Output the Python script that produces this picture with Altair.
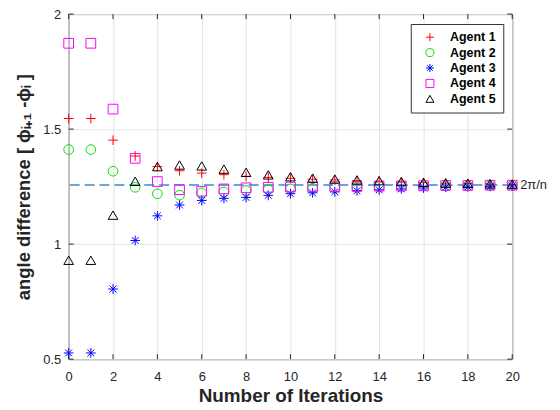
import altair as alt
import pandas as pd

iterations = list(range(21))
agent1 = [1.546, 1.546, 1.452, 1.383, 1.337, 1.319, 1.309, 1.302, 1.295, 1.290, 1.286,
          1.282, 1.279, 1.276, 1.273, 1.270, 1.267, 1.265, 1.263, 1.261, 1.260]
agent2 = [1.411, 1.411, 1.317, 1.247, 1.219, 1.213, 1.223, 1.227, 1.233, 1.237, 1.240,
          1.243, 1.246, 1.248, 1.250, 1.251, 1.252, 1.253, 1.254, 1.255, 1.256]
agent3 = [0.527, 0.527, 0.805, 1.016, 1.123, 1.170, 1.190, 1.199, 1.203, 1.212, 1.219,
          1.223, 1.227, 1.232, 1.236, 1.240, 1.244, 1.247, 1.249, 1.251, 1.253]
agent4 = [1.873, 1.873, 1.587, 1.373, 1.272, 1.237, 1.230, 1.240, 1.245, 1.247, 1.248,
          1.249, 1.250, 1.251, 1.252, 1.253, 1.254, 1.255, 1.255, 1.256, 1.256]
agent5 = [0.930, 0.930, 1.126, 1.273, 1.337, 1.344, 1.340, 1.326, 1.312, 1.301, 1.293,
          1.287, 1.283, 1.279, 1.276, 1.272, 1.269, 1.266, 1.264, 1.262, 1.261]
agent_names = ["Agent 1", "Agent 2", "Agent 3", "Agent 4", "Agent 5"]
agent_colors = ["#ff0000", "#00e000", "#0000ff", "#ff00ff", "#000000"]
x_ticks = list(range(0, 21, 2))
y_ticks = [0.5, 1, 1.5, 2]
ref_value = 1.2566
ref_label = "2\u03c0/n"

plus_path = "M-1,0L1,0M0,-1L0,1"
star_path = "M-1,0L1,0M0,-1L0,1M-0.7,-0.7L0.7,0.7M-0.7,0.7L0.7,-0.7"
agent_shapes = [plus_path, "circle", star_path, "square", "triangle-up"]

rows = []
for name, vals in zip(agent_names, [agent1, agent2, agent3, agent4, agent5]):
    for i, v in zip(iterations, vals):
        rows.append({"iter": i, "value": v, "agent": name})
df = pd.DataFrame(rows)

W, H = 446, 347
TL = 5
font = "Liberation Sans"
axis_col = "#262626"

xscale = alt.Scale(domain=[0, 20], nice=False)
yscale = alt.Scale(domain=[0.5, 2], nice=False)

points = alt.Chart(df).mark_point(filled=False, size=95, strokeWidth=1, opacity=1).encode(
    x=alt.X("iter:Q", scale=xscale,
            axis=alt.Axis(title="Number of Iterations", values=x_ticks,
                          grid=True, gridColor="#e3e3e3", domain=False, ticks=False,
                          labelFlush=False,
                          labelFont=font, labelFontSize=13, labelColor=axis_col,
                          labelPadding=11,
                          titleFont=font, titleFontSize=19, titleFontWeight="bold",
                          titleColor=axis_col, titlePadding=4)),
    y=alt.Y("value:Q", scale=yscale,
            axis=alt.Axis(title="angle difference [ \u03d5\u1d62\u208a\u2081 -\u03d5\u1d62 ]",
                          values=y_ticks, format="~g",
                          grid=True, gridColor="#e3e3e3", domain=False, ticks=False,
                          labelFlush=False,
                          labelFont=font, labelFontSize=13, labelColor=axis_col,
                          labelPadding=8,
                          titleFont=font, titleFontSize=18.5, titleFontWeight="bold",
                          titleColor=axis_col, titlePadding=9)),
    color=alt.Color("agent:N", scale=alt.Scale(domain=agent_names, range=agent_colors),
                    legend=alt.Legend(title=None, orient="none", legendX=344, legendY=10,
                                      labelFont=font, labelFontSize=12.5, labelFontWeight="bold",
                                      labelColor="#000000",
                                      fillColor="white", strokeColor="#333333",
                                      padding=7, rowPadding=2.5, symbolSize=65,
                                      symbolStrokeWidth=1, symbolOffset=6, labelOffset=14)),
    shape=alt.Shape("agent:N", scale=alt.Scale(domain=agent_names, range=agent_shapes)),
)

ref_df = pd.DataFrame({"y": [ref_value], "label": [ref_label], "x": [20]})
ref_line = alt.Chart(ref_df).mark_rule(color="#62aade", strokeWidth=2, strokeDash=[10, 5]).encode(
    y=alt.Y("y:Q", scale=yscale)
)
ref_text = alt.Chart(ref_df).mark_text(align="left", baseline="middle", dx=8, font=font,
                                        fontSize=13, color=axis_col).encode(
    x=alt.X("x:Q", scale=xscale), y=alt.Y("y:Q", scale=yscale), text="label:N"
)

xt = pd.DataFrame({"t": x_ticks})
yt = pd.DataFrame({"t": y_ticks})
tick_bottom = alt.Chart(xt).mark_rule(color=axis_col, strokeWidth=1).encode(
    x=alt.X("t:Q", scale=xscale), y=alt.value(H), y2=alt.value(H - TL))
tick_top = alt.Chart(xt).mark_rule(color=axis_col, strokeWidth=1).encode(
    x=alt.X("t:Q", scale=xscale), y=alt.value(0), y2=alt.value(TL))
tick_left = alt.Chart(yt).mark_rule(color=axis_col, strokeWidth=1).encode(
    y=alt.Y("t:Q", scale=yscale), x=alt.value(0), x2=alt.value(TL))
tick_right = alt.Chart(yt).mark_rule(color=axis_col, strokeWidth=1).encode(
    y=alt.Y("t:Q", scale=yscale), x=alt.value(W), x2=alt.value(W - TL))

chart = alt.layer(ref_line, tick_bottom, tick_top, tick_left, tick_right, points, ref_text).properties(
    width=W, height=H,
    autosize=alt.AutoSizeParams(type="none"),
    padding={"left": 61, "top": 5, "right": 40, "bottom": 50},
).configure_view(stroke=axis_col, strokeWidth=1)

chart.save("out.html", embed_options={"renderer": "svg", "actions": False})
